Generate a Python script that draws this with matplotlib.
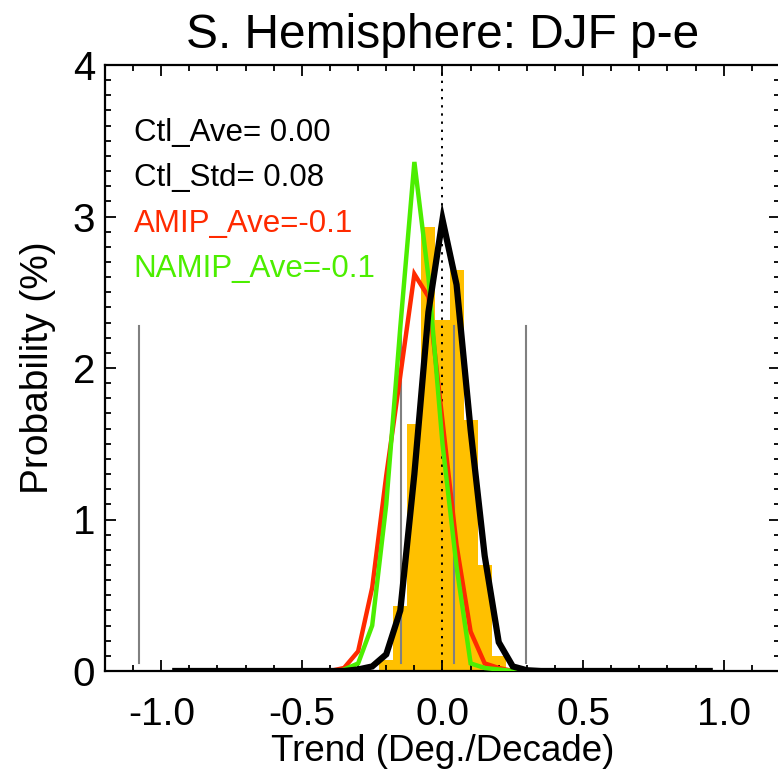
import matplotlib
matplotlib.use("Agg")
import matplotlib.pyplot as plt
from matplotlib.ticker import MultipleLocator, FuncFormatter
import numpy as np

plt.rcParams['font.family'] = ['Liberation Sans', 'DejaVu Sans']

# ---- data ----
bin_centers = [-0.20, -0.15, -0.10, -0.05, 0.00, 0.05, 0.10, 0.15, 0.20]
bin_heights = [0.07, 0.43, 1.63, 2.93, 2.32, 2.65, 1.66, 0.70, 0.10]
bin_width = 0.05

ctl_x = [round(-0.95 + 0.05 * i, 2) for i in range(39)]
ctl_y_nonzero = {-0.30: 0.01, -0.25: 0.03, -0.20: 0.11, -0.15: 0.40, -0.10: 1.30,
                 -0.05: 2.37, 0.00: 2.98, 0.05: 2.55, 0.10: 1.59, 0.15: 0.76,
                 0.20: 0.19, 0.25: 0.03, 0.30: 0.005}
ctl_y = [ctl_y_nonzero.get(x, 0.0) for x in ctl_x]

amip_x = [-0.40, -0.35, -0.30, -0.25, -0.20, -0.15, -0.10, -0.05, 0.00, 0.05, 0.10, 0.15, 0.20, 0.25]
amip_y = [0.00, 0.02, 0.13, 0.55, 1.29, 1.95, 2.62, 2.47, 1.65, 0.83, 0.26, 0.05, 0.02, 0.00]

namip_x = [-0.35, -0.30, -0.25, -0.20, -0.15, -0.10, -0.05, 0.00, 0.05, 0.10, 0.15, 0.20, 0.25, 0.30]
namip_y = [0.01, 0.05, 0.30, 1.10, 2.27, 3.36, 2.60, 1.50, 0.69, 0.05, 0.02, 0.01, 0.00, 0.00]

gray_x = [-1.078, -0.148, 0.040, 0.296]
gray_lo, gray_hi = 0.05, 2.28

labels = ["Ctl_Ave= 0.00", "Ctl_Std= 0.08", "AMIP_Ave=-0.1", "NAMIP_Ave=-0.1"]
label_colors = ["black", "black", "#FF2A00", "#4CEE00"]
label_y = [3.5, 3.2, 2.9, 2.6]

title = "S. Hemisphere: DJF p-e"
xlabel = "Trend (Deg./Decade)"
ylabel = "Probability (%)"

# ---- figure ----
W, H = 778, 769
fig = plt.figure(figsize=(W / 100, H / 100), dpi=100)
ax = fig.add_axes([105 / W, 1 - 671 / H, 675 / W, 606 / H])

ax.bar(bin_centers, bin_heights, width=bin_width, color="#FFC000", edgecolor="none", zorder=1)
for gx in gray_x:
    ax.plot([gx, gx], [gray_lo, gray_hi], color="#808080", lw=1.5, zorder=2)
ax.axvline(0.0, color="black", lw=1.4, ls=(0, (1.2, 3.0)), zorder=2)
ax.plot(amip_x, amip_y, color="#FF2A00", lw=3.2, zorder=3, solid_joinstyle="miter")
ax.plot(namip_x, namip_y, color="#4CEE00", lw=3.2, zorder=4, solid_joinstyle="miter")
ax.plot(ctl_x, ctl_y, color="black", lw=4.5, zorder=5, solid_joinstyle="miter")

for txt, c, yy in zip(labels, label_colors, label_y):
    ax.text(-1.098, yy, txt, color=c, fontsize=22.5, va="baseline", ha="left", zorder=6)

ax.set_xlim(-1.2, 1.2)
ax.set_ylim(0, 4)
ax.xaxis.set_major_locator(MultipleLocator(0.5))
ax.xaxis.set_minor_locator(MultipleLocator(0.1))
ax.yaxis.set_major_locator(MultipleLocator(1))
ax.yaxis.set_minor_locator(MultipleLocator(0.1))
ax.xaxis.set_major_formatter(FuncFormatter(lambda v, p: ("%.1f" % v).replace("\u2212", "-")))
ax.yaxis.set_major_formatter(FuncFormatter(lambda v, p: "%d" % round(v)))

ax.tick_params(which="both", direction="in", top=True, right=True, width=1.3)
ax.tick_params(which="major", length=8)
ax.tick_params(which="minor", length=4)
ax.tick_params(axis="x", which="major", labelsize=28, pad=18.5)
ax.tick_params(axis="y", which="major", labelsize=29, pad=7)
for s in ax.spines.values():
    s.set_linewidth(1.6)

ax.set_xlabel(xlabel, fontsize=26.5, va="baseline")
ax.xaxis.set_label_coords(0.5, -(761 - 671) / 606)
ax.set_ylabel(ylabel, fontsize=28, labelpad=12)
ax.set_title(title, fontsize=34.5, pad=12)

fig.savefig("out.png", dpi=100)
